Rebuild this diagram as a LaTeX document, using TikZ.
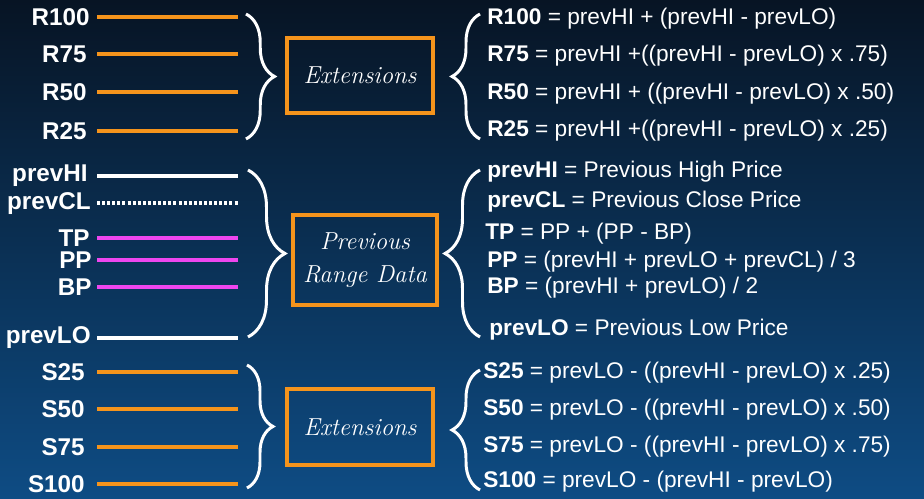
\documentclass[tikz,border=0pt]{standalone}
\usepackage{fontspec}
\setsansfont{Liberation Sans}
\usetikzlibrary{decorations.pathreplacing}
\definecolor{bgtop}{RGB}{7,20,36}
\definecolor{bgmid}{RGB}{12,46,82}
\definecolor{bgbot}{RGB}{14,76,132}
\definecolor{extorange}{RGB}{245,148,28}
\definecolor{pivmagenta}{RGB}{238,70,238}
\tikzstyle{level} = [line width=2.3pt]
\tikzstyle{dotlevel} = [line width=2.3pt, white, dash pattern=on 1.7pt off 1.2pt]
\tikzstyle{bracket} = [white, line width=1.7pt, decorate]
\tikzstyle{chalkbox} = [draw=extorange, line width=1.8pt, inner sep=0pt, align=center, text=white, font=\rmfamily\itshape\fontsize{14}{19}\selectfont]
\tikzstyle{lbl} = [anchor=east, inner sep=0pt, text=white, font=\sffamily\bfseries\fontsize{13.8}{15}\selectfont]
\tikzstyle{formula} = [anchor=west, inner sep=0pt, text=white, font=\sffamily\fontsize{12.9}{15}\selectfont]

\begin{document}
\begin{tikzpicture}[x=0.02cm,y=-0.02cm]
    \shade[top color=bgtop, middle color=bgmid, bottom color=bgbot] (0,0) rectangle (924,499);
    \useasboundingbox (0,0) rectangle (924,499);
    \begin{scope}
        \foreach \n/\y/\xr in {R100/17/90,R75/54/87,R50/92/87,R25/131/87}{
            \coordinate (a\n) at (97,\y);
            \coordinate (b\n) at (238,\y);
            \draw[level,extorange] (a\n) -- (b\n);
            \node[lbl] (l\n) at (\xr,\y) {\n};
        }
        \draw[bracket, decoration={brace, amplitude=0.57cm}] (246,14) -- (246,139);
        \node[chalkbox, minimum width=2.92cm, minimum height=1.5cm] (extup) at (360,75.5) {Extensions};
        \draw[bracket, decoration={brace, amplitude=0.56cm}] (480,139) -- (480,14);
        \node[formula] (fR100) at (487,19) {\textbf{R100} = prevHI + (prevHI - prevLO)};
        \node[formula] (fR75) at (487,56) {\textbf{R75} = prevHI +((prevHI - prevLO) x .75)};
        \node[formula] (fR50) at (487,94) {\textbf{R50} = prevHI + ((prevHI - prevLO) x .50)};
        \node[formula] (fR25) at (487,131) {\textbf{R25} = prevHI +((prevHI - prevLO) x .25)};
    \end{scope}
    \begin{scope}
        \foreach \n/\y/\c/\xr in {prevHI/176/white/88,TP/238/pivmagenta/90,PP/260/pivmagenta/92,BP/287/pivmagenta/92,prevLO/338/white/91}{
            \coordinate (a\n) at (97,\y);
            \coordinate (b\n) at (238,\y);
            \draw[level,\c] (a\n) -- (b\n);
            \node[lbl] (l\n) at (\xr,\y) {\n};
        }
        \coordinate (aprevCL) at (97,203);
        \coordinate (bprevCL) at (238,203);
        \draw[dotlevel] (aprevCL) -- (bprevCL);
        \node[lbl] (lprevCL) at (91,204) {prevCL};
        \draw[bracket, decoration={brace, amplitude=0.74cm}] (248,170) -- (248,337);
        \node[chalkbox, minimum width=2.88cm, minimum height=1.8cm] (prevrange) at (365,260) {Previous\\Range Data};
        \draw[bracket, decoration={brace, amplitude=0.7cm}] (480,337) -- (480,170);
        \node[formula] (fprevHI) at (487,172) {\textbf{prevHI} = Previous High Price};
        \node[formula] (fprevCL) at (487,202) {\textbf{prevCL} = Previous Close Price};
        \node[formula] (fTP) at (485,234) {\textbf{TP} = PP + (PP - BP)};
        \node[formula] (fPP) at (487,262) {\textbf{PP} = (prevHI + prevLO + prevCL) / 3};
        \node[formula] (fBP) at (487,288) {\textbf{BP} = (prevHI + prevLO) / 2};
        \node[formula] (fprevLO) at (489,330) {\textbf{prevLO} = Previous Low Price};
    \end{scope}
    \begin{scope}
        \foreach \n/\y in {S25/372,S50/409,S75/447,S100/484}{
            \coordinate (a\n) at (97,\y);
            \coordinate (b\n) at (238,\y);
            \draw[level,extorange] (a\n) -- (b\n);
            \node[lbl] (l\n) at (85,\y) {\n};
        }
        \draw[bracket, decoration={brace, amplitude=0.52cm}] (247,365) -- (247,488);
        \node[chalkbox, minimum width=2.92cm, minimum height=1.52cm] (extdown) at (360,427) {Extensions};
        \draw[bracket, decoration={brace, amplitude=0.56cm}] (480,490) -- (480,370);
        \node[formula] (fS25) at (483,373) {\textbf{S25} = prevLO - ((prevHI - prevLO) x .25)};
        \node[formula] (fS50) at (483,410) {\textbf{S50} = prevLO - ((prevHI - prevLO) x .50)};
        \node[formula] (fS75) at (483,447) {\textbf{S75} = prevLO - ((prevHI - prevLO) x .75)};
        \node[formula] (fS100) at (483,482) {\textbf{S100} = prevLO - (prevHI - prevLO)};
    \end{scope}
\end{tikzpicture}
\end{document}
